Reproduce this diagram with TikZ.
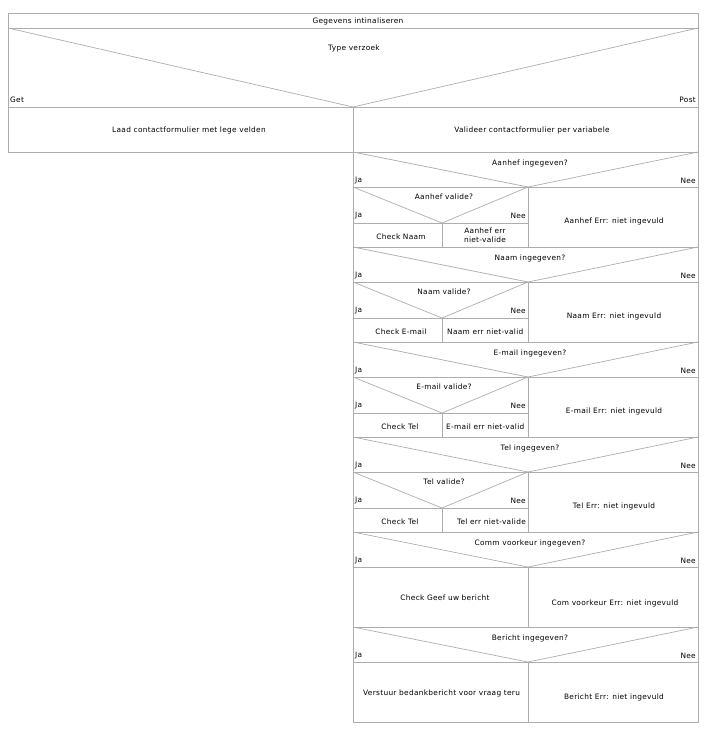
\documentclass[tikz,border=0pt]{standalone}
\usepackage{fontspec}
\setmainfont{DejaVu Sans}[LetterSpace=4]
\usepackage{tikz}

\begin{document}
\begin{tikzpicture}[x=1pt, y=-1pt,
		ns/.style={draw=black!32, line width=0.7pt},
		txt/.style={font=\fontsize{7.4}{8.6}\selectfont, inner sep=0pt, align=center},
		jalbl/.style={txt, anchor=west},
		neelbl/.style={txt, anchor=east}]
			%%%%% START %%%%%
			\useasboundingbox (0, 0) rectangle (717, 732);
			
			\draw[ns] (8, 13) rectangle (698, 152);
			\draw[ns] (8, 28) -- (698, 28);
			\draw[ns] (8, 28) -- (353, 107) -- (698, 28);
			\draw[ns] (8, 107) -- (698, 107);
			\draw[ns] (353, 107) -- (353, 722) -- (698, 722) -- (698, 152);
			
			\node[txt] (init) at (358, 21) {Gegevens intinaliseren};
			\node[txt] (type) at (354, 48) {Type verzoek};
			\node[jalbl] (get) at (10, 100) {Get};
			\node[neelbl] (post) at (696, 100) {Post};
			\node[txt] (laad) at (189, 130) {Laad contactformulier met lege velden};
			\node[txt] (valideer) at (532, 130) {Valideer contactformulier per variabele};
			
			% Aanhef
			\draw[ns] (353, 152) -- (528, 187) -- (698, 152);
			\draw[ns] (353, 187) -- (698, 187);
			\draw[ns] (528, 187) -- (528, 247);
			\draw[ns] (353, 187) -- (442, 223) -- (528, 187);
			\draw[ns] (353, 223) -- (528, 223);
			\draw[ns] (442, 223) -- (442, 247);
			\draw[ns] (353, 247) -- (698, 247);
			\node[txt] (aanhefq) at (530, 163) {Aanhef ingegeven?};
			\node[jalbl] (aanhefja) at (355, 181) {Ja};
			\node[neelbl] (aanhefnee) at (696, 181) {Nee};
			\node[txt] (aanhefv) at (444, 197) {Aanhef valide?};
			\node[jalbl] (aanhefvja) at (355, 216) {Ja};
			\node[neelbl] (aanhefvnee) at (526, 216) {Nee};
			\node[txt] (checknaam) at (401, 237) {Check Naam};
			\node[txt] (aanhefinv) at (485, 235) {Aanhef err\\niet-valide};
			\node[txt] (aanhefleeg) at (614, 221) {Aanhef Err: niet ingevuld};
			
			% Naam
			\draw[ns] (353, 247) -- (528, 282) -- (698, 247);
			\draw[ns] (353, 282) -- (698, 282);
			\draw[ns] (528, 282) -- (528, 342);
			\draw[ns] (353, 282) -- (442, 318) -- (528, 282);
			\draw[ns] (353, 318) -- (528, 318);
			\draw[ns] (442, 318) -- (442, 342);
			\draw[ns] (353, 342) -- (698, 342);
			\node[txt] (naamq) at (530, 258) {Naam ingegeven?};
			\node[jalbl] (naamja) at (355, 276) {Ja};
			\node[neelbl] (naamnee) at (696, 276) {Nee};
			\node[txt] (naamv) at (444, 292) {Naam valide?};
			\node[jalbl] (naamvja) at (355, 311) {Ja};
			\node[neelbl] (naamvnee) at (526, 311) {Nee};
			\node[txt] (checkmail) at (401, 332) {Check E-mail};
			\begin{scope}
				\clip (442, 318) rectangle (528, 342);
				\node[jalbl] (naaminv) at (447, 332) {Naam err niet-valid};
			\end{scope}
			\node[txt] (naamleeg) at (614, 316) {Naam Err: niet ingevuld};
			
			% E-mail
			\draw[ns] (353, 342) -- (528, 377) -- (698, 342);
			\draw[ns] (353, 377) -- (698, 377);
			\draw[ns] (528, 377) -- (528, 437);
			\draw[ns] (353, 377) -- (442, 413) -- (528, 377);
			\draw[ns] (353, 413) -- (528, 413);
			\draw[ns] (442, 413) -- (442, 437);
			\draw[ns] (353, 437) -- (698, 437);
			\node[txt] (mailq) at (530, 353) {E-mail ingegeven?};
			\node[jalbl] (mailja) at (355, 371) {Ja};
			\node[neelbl] (mailnee) at (696, 371) {Nee};
			\node[txt] (mailv) at (444, 387) {E-mail valide?};
			\node[jalbl] (mailvja) at (355, 406) {Ja};
			\node[neelbl] (mailvnee) at (526, 406) {Nee};
			\node[txt] (checktel) at (400, 427) {Check Tel};
			\begin{scope}
				\clip (442, 413) rectangle (528, 437);
				\node[jalbl] (mailinv) at (446, 427) {E-mail err niet-valid};
			\end{scope}
			\node[txt] (mailleeg) at (614, 411) {E-mail Err: niet ingevuld};
			
			% Tel
			\draw[ns] (353, 437) -- (528, 472) -- (698, 437);
			\draw[ns] (353, 472) -- (698, 472);
			\draw[ns] (528, 472) -- (528, 532);
			\draw[ns] (353, 472) -- (442, 508) -- (528, 472);
			\draw[ns] (353, 508) -- (528, 508);
			\draw[ns] (442, 508) -- (442, 532);
			\draw[ns] (353, 532) -- (698, 532);
			\node[txt] (telq) at (530, 448) {Tel ingegeven?};
			\node[jalbl] (telja) at (355, 466) {Ja};
			\node[neelbl] (telnee) at (696, 466) {Nee};
			\node[txt] (telv) at (444, 482) {Tel valide?};
			\node[jalbl] (telvja) at (355, 501) {Ja};
			\node[neelbl] (telvnee) at (526, 501) {Nee};
			\node[txt] (checktelb) at (400, 522) {Check Tel};
			\node[neelbl] (telinv) at (526, 522) {Tel err niet-valide};
			\node[txt] (telleeg) at (614, 506) {Tel Err: niet ingevuld};
			
			% Comm voorkeur
			\draw[ns] (353, 532) -- (528, 567) -- (698, 532);
			\draw[ns] (353, 567) -- (698, 567);
			\draw[ns] (528, 567) -- (528, 627);
			\draw[ns] (353, 627) -- (698, 627);
			\node[txt] (commq) at (530, 543) {Comm voorkeur ingegeven?};
			\node[jalbl] (commja) at (355, 561) {Ja};
			\node[neelbl] (commnee) at (696, 561) {Nee};
			\node[txt] (checkbericht) at (445, 598) {Check Geef uw bericht};
			\node[txt] (commleeg) at (615, 603) {Com voorkeur Err: niet ingevuld};
			
			% Bericht
			\draw[ns] (353, 627) -- (528, 662) -- (698, 627);
			\draw[ns] (353, 662) -- (698, 662);
			\draw[ns] (528, 662) -- (528, 722);
			\node[txt] (berichtq) at (530, 638) {Bericht ingegeven?};
			\node[jalbl] (berichtja) at (355, 656) {Ja};
			\node[neelbl] (berichtnee) at (696, 656) {Nee};
			\begin{scope}
				\clip (353, 662) rectangle (528, 722);
				\node[jalbl] (verstuur) at (363, 693) {Verstuur bedankbericht voor vraag teru};
			\end{scope}
			\node[txt] (berichtleeg) at (614, 697) {Bericht Err: niet ingevuld};
			
			%%%%% END %%%%%
\end{tikzpicture}
\end{document}
